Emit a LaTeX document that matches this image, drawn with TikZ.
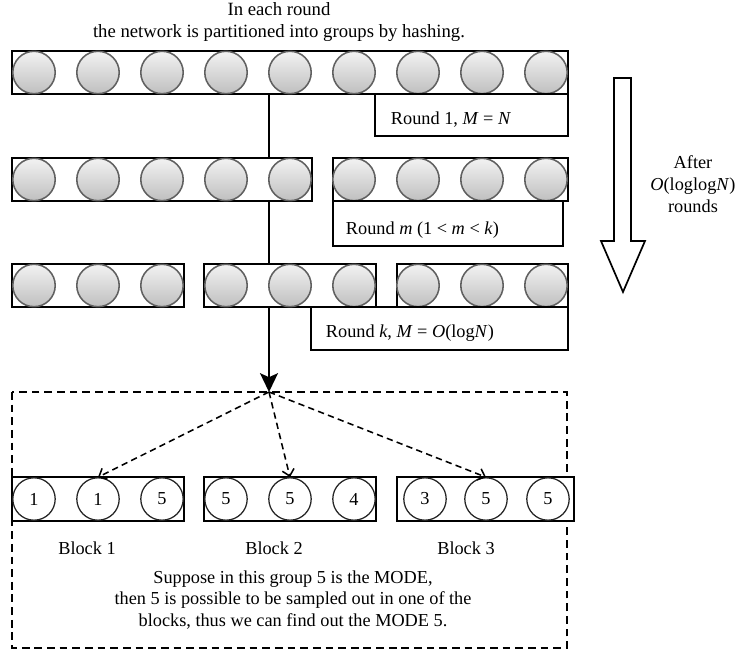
\documentclass[tikz,border=0pt]{standalone}
\usepackage{fontspec}
\setmainfont{Liberation Serif}
\usetikzlibrary{arrows.meta}
\usetikzlibrary{calc,positioning}

\tikzset{
  ball/.style={circle, draw=gray!75!black, line width=1.1pt, inner sep=0pt,
    minimum size=1.06cm, top color=gray!10, bottom color=gray!50},
  num/.style={circle, draw=black!85, line width=0.9pt, fill=white, inner sep=0pt,
    minimum size=1.06cm},
  groupbox/.style={draw=black, line width=1.2pt, fill=white},
  blockarrow/.style={-{Straight Barb[length=1.6mm,width=3mm]}, line width=1.1pt,
    dash pattern=on 4.5pt off 3pt},
}

\begin{document}
\begin{tikzpicture}[x=0.025cm, y=-0.025cm, >=Stealth,
    every node/.style={font=\fontsize{13pt}{15.5pt}\selectfont}]

    \useasboundingbox (0,0) rectangle (739,655);

    % path of one group down to the sampling stage
    \coordinate (start) at (269,94);
    \coordinate (hub) at (269,392);
    \draw[-{Stealth[length=4.7mm,width=4.5mm,inset=1mm]}, line width=1.2pt] (start) -- (hub);

    \node[align=center, font=\fontsize{13.3pt}{15.6pt}\selectfont] (title) at (279,22)
        {In each round\\the network is partitioned into groups by hashing.};

    % round 1
    \draw[groupbox] (12,51) rectangle (568,94);
    \foreach \i in {0,...,8}
        \node[ball] (ra\i) at ({34+64*\i},72.5) {};
    \draw[groupbox] (375,94) rectangle (568,136);
    \node[anchor=base west] (labela) at (386,125) {Round 1, \textit{M} = \textit{N}};

    % round m
    \draw[groupbox] (12,158) rectangle (312,201);
    \draw[groupbox] (333,158) rectangle (568,201);
    \foreach \i in {0,...,8}
        \node[ball] (rb\i) at ({34+64*\i},179.5) {};
    \draw[groupbox] (333,201) rectangle (563,246);
    \node[anchor=base west] (labelb) at (341,235) {Round \textit{m} (1 < \textit{m} < \textit{k})};

    % round k
    \draw[groupbox] (12,264) rectangle (184,307);
    \draw[groupbox] (204,264) rectangle (376,307);
    \draw[groupbox] (397,264) rectangle (568,307);
    \foreach \i in {0,...,8}
        \node[ball] (rc\i) at ({34+64*\i},285.5) {};
    \draw[groupbox] (311,307) rectangle (568,350);
    \node[anchor=base west] (labelc) at (321,338) {Round \textit{k}, \textit{M} = \textit{O}(log\textit{N})};

    % hollow arrow and its caption
    \draw[line width=1.2pt, fill=white] (614,78) -- (631,78) -- (631,241) -- (645,241)
        -- (623,292) -- (601,241) -- (614,241) -- cycle;
    \node[align=center] (rounds) at (693,184) {After\\\textit{O}(loglog\textit{N})\\rounds};

    % sampling inside one group
    \draw[line width=1.9pt, dash pattern=on 5.5pt off 3.5pt] (12,392) rectangle (567,648);

    \draw[groupbox] (12,477) rectangle (184,521);
    \draw[groupbox] (204,477) rectangle (376,521);
    \draw[groupbox] (397,477) rectangle (574,521);
    \foreach \v [count=\i from 0] in {1,1,5}
        \node[num] (ba\i) at ({34+64*\i},499) {\v};
    \foreach \v [count=\i from 0] in {5,5,4}
        \node[num] (bb\i) at ({226+64*\i},499) {\v};
    \foreach \v/\x [count=\i from 0] in {3/425,5/486,5/548}
        \node[num] (bc\i) at (\x,499) {\v};

    \draw[blockarrow] (hub) -- (ba1.north);
    \draw[blockarrow] (hub) -- (bb1.north);
    \draw[blockarrow] (hub) -- (bc1.north);

    \node (blocka) at (87,548) {Block 1};
    \node (blockb) at (274,548) {Block 2};
    \node (blockc) at (466,548) {Block 3};

    \node[align=center] (mode) at (293,600)
        {Suppose in this group 5 is the MODE,\\then 5 is possible to be sampled out in one of the\\blocks, thus we can find out the MODE 5.};

\end{tikzpicture}
\end{document}
